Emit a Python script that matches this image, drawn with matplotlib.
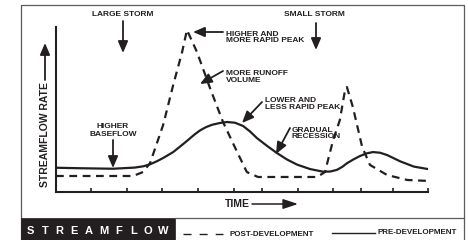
import numpy as np
import matplotlib.pyplot as plt
from matplotlib.patches import Rectangle

plt.rcParams['font.family'] = ['Liberation Sans', 'DejaVu Sans']
plt.rcParams['font.weight'] = 'bold'

# time and streamflow both on a 0-100 relative scale
pre_time = [0, 6.5, 15.3, 21.2, 23.5, 25.3, 27.0, 28.8, 31.5, 33.5, 35.5, 37.2, 38.7, 40.3,
            41.9, 44.0, 46.0, 48.1, 50.3, 52.2, 54.0, 56.7, 59.4, 62.1, 64.8, 68.3, 71.8,
            73.7, 75.5, 77.0, 78.2, 80.0, 81.7, 83.5, 85.2, 87.1, 89.0, 92.5, 96.2, 100]
pre_flow = [14.7, 14.4, 14.1, 14.8, 15.6, 16.8, 18.5, 20.6, 24.2, 27.8, 31.5, 34.8, 37.3, 39.3,
            40.7, 41.8, 42.4, 42.0, 40.0, 36.6, 32.7, 28.0, 23.6, 19.7, 16.6, 13.9, 12.3,
            12.4, 13.4, 15.3, 17.4, 19.8, 21.8, 23.4, 24.2, 23.8, 22.4, 18.6, 15.4, 13.9]

post_time = [0, 20.7, 23.4, 25.3, 28.8, 31.5, 33.9, 35.2, 37.9, 41.4, 44.9, 48.7, 51.3,
             54.3, 70.2, 72.3, 74.5, 76.3, 77.7, 78.2, 79.8, 82.3, 84.4, 89.0, 94.4, 100]
post_flow = [9.7, 9.7, 12.1, 17.6, 40.6, 64.8, 84.8, 98.2, 84.8, 63.0, 42.4, 24.2, 12.1,
             9.1, 9.1, 12.1, 31.5, 43.6, 61.8, 63.6, 51.5, 27.3, 16.4, 10.3, 7.3, 6.7]

tick_times = [9.4, 19.1, 28.5, 38.2, 47.8, 55.4, 65.1, 74.5, 82.0, 90.6, 100]

ink = '#231f20'
border = '#5a5b5d'

fig = plt.figure(figsize=(4.68, 2.4), dpi=100)

# main chart
ax = fig.add_axes([56/468, 48/240, 372/468, 165/240])
ax.plot(pre_time, pre_flow, color=ink, lw=1.6, solid_joinstyle='round')
ax.plot(post_time, post_flow, color=ink, lw=1.6, ls=(0, (3.5, 2.5)))
ax.set_xlim(0, 100)
ax.set_ylim(0, 100)
ax.spines[['top', 'right']].set_visible(False)
for s in ['left', 'bottom']:
    ax.spines[s].set_linewidth(1.5)
    ax.spines[s].set_color(ink)
ax.set_xticks(tick_times)
ax.set_yticks([])
ax.tick_params(axis='x', direction='in', length=3, width=1.2, color=ink, labelbottom=False)
ax.patch.set_alpha(0)

# overlay in pixel units for frame, labels and arrows
ov = fig.add_axes([0, 0, 1, 1], zorder=3)
ov.set_xlim(0, 468)
ov.set_ylim(240, 0)
ov.axis('off')

ov.add_patch(Rectangle((21, 5), 443, 240, fill=False, ec=border, lw=0.9))
ov.add_patch(Rectangle((21, 218), 154, 22, fc=ink, ec=ink, lw=0.5))
ov.plot([175, 464], [218, 218], color=border, lw=0.9)

for ch, xx in zip('STREAMFLOW', np.linspace(30, 163, 10)):
    ov.text(xx, 231, ch, color='white', fontsize=8, fontweight='bold', ha='center', va='center')


def arrow(x0, y0, x1, y1, lw=1.3, hl=0.7, hw=0.3):
    ov.annotate('', xy=(x1, y1), xytext=(x0, y0),
                arrowprops=dict(arrowstyle='-|>,head_length=%s,head_width=%s' % (hl, hw),
                                color=ink, lw=lw, shrinkA=0, shrinkB=0))


def note(x, y, s, ha='left'):
    ov.text(x, y, s, fontsize=6, fontweight='bold', ha=ha, va='center', color=ink,
            linespacing=1.0, multialignment=ha)


note(123, 15, 'LARGE STORM', ha='center')
arrow(123, 21, 123, 53)
note(314, 15, 'SMALL STORM', ha='center')
arrow(316, 23, 316, 50)
note(226, 37.5, 'HIGHER AND\nMORE RAPID PEAK')
arrow(223, 32, 193, 32)
note(226, 77, 'MORE RUNOFF\nVOLUME')
arrow(223, 71, 200, 84)
note(265, 104, 'LOWER AND\nLESS RAPID PEAK')
arrow(262, 102, 242, 123)
note(113, 130.5, 'HIGHER\nBASEFLOW', ha='center')
arrow(113, 140, 113, 168)
note(292, 133.5, 'GRADUAL\nRECESSION')
arrow(290, 128, 276, 154)

# axis labels
ov.text(45, 134.5, 'STREAMFLOW RATE', rotation=90, fontsize=7.5, fontweight='bold',
        ha='center', va='center', color=ink)
arrow(45, 80, 45, 43)
ov.text(225, 204, 'TIME', fontsize=7.5, fontweight='bold', ha='left', va='center', color=ink)
arrow(252, 204, 298, 204, lw=1.1, hl=0.9, hw=0.3)

# legend
ov.plot([183, 223], [234, 234], color=ink, lw=1, ls=(0, (5.8, 5.8)))
ov.text(230, 234, 'POST-DEVELOPMENT', fontsize=5.8, fontweight='bold', ha='left', va='center', color=ink)
ov.plot([332, 375], [233, 233], color=ink, lw=1)
ov.text(377, 232, 'PRE-DEVELOPMENT', fontsize=5.8, fontweight='bold', ha='left', va='center', color=ink)

fig.savefig('out.png', dpi=100)
